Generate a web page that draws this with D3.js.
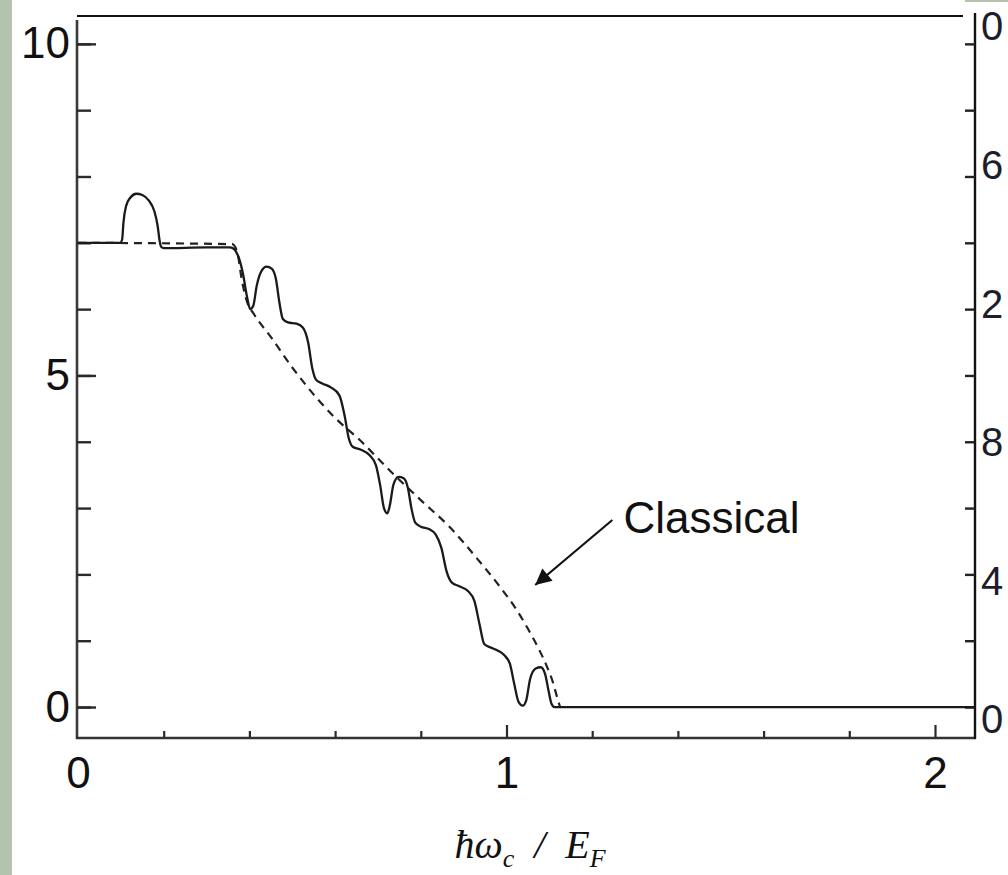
<!DOCTYPE html>
<html><head><meta charset="utf-8">
<script src="https://cdn.jsdelivr.net/npm/d3@7"></script>
<style>html,body{margin:0;padding:0;background:#fff;overflow:hidden}</style>
</head><body>
<svg id="chart" width="1008" height="875"></svg>
<script>
// ---------- data ----------
const quantumX = [0, 0.098, 0.103, 0.106, 0.112, 0.122, 0.136, 0.150, 0.165, 0.178, 0.186, 0.190, 0.194, 0.200, 0.30, 0.355,
  0.365, 0.376, 0.386, 0.394, 0.402, 0.409, 0.417, 0.427, 0.440, 0.452, 0.462, 0.470, 0.478, 0.490, 0.510, 0.525, 0.537, 0.547, 0.556,
  0.570, 0.590, 0.610, 0.622, 0.632, 0.642, 0.660, 0.680, 0.695, 0.705, 0.714, 0.722, 0.728, 0.736, 0.748, 0.760, 0.770, 0.778, 0.787,
  0.800, 0.820, 0.835, 0.848, 0.860, 0.872, 0.890, 0.910, 0.925, 0.937, 0.948, 0.962, 0.980, 0.995, 1.008, 1.018, 1.028, 1.038, 1.046,
  1.055, 1.068, 1.080, 1.090, 1.098, 1.105, 1.112, 2.093];
const quantumY = [7.0, 7.0, 7.05, 7.3, 7.55, 7.68, 7.74, 7.72, 7.64, 7.48, 7.25, 7.05, 6.94, 6.92, 6.93, 6.93,
  6.90, 6.76, 6.50, 6.20, 6.00, 6.05, 6.35, 6.56, 6.64, 6.61, 6.45, 6.10, 5.85, 5.80, 5.78, 5.72, 5.50, 5.10, 4.93,
  4.88, 4.82, 4.70, 4.40, 4.05, 3.92, 3.88, 3.80, 3.65, 3.35, 3.00, 2.92, 3.05, 3.35, 3.47, 3.45, 3.30, 3.00, 2.78,
  2.72, 2.68, 2.60, 2.40, 2.05, 1.88, 1.82, 1.75, 1.60, 1.25, 0.95, 0.90, 0.85, 0.78, 0.65, 0.35, 0.08, 0.02, 0.10,
  0.42, 0.58, 0.60, 0.50, 0.25, 0.05, 0.0, 0.0];

const classicalX = [0, 0.360, 0.372, 0.382, 0.395, 0.410, 0.450, 0.500, 0.557, 0.600, 0.657, 0.727, 0.800, 0.868, 0.930, 0.985, 1.020, 1.050, 1.075, 1.095, 1.108, 1.118, 1.125];
const classicalY = [7.0, 6.98, 6.85, 6.45, 6.10, 5.93, 5.58, 5.12, 4.66, 4.36, 4.03, 3.57, 3.12, 2.71, 2.25, 1.81, 1.50, 1.18, 0.88, 0.60, 0.38, 0.15, 0.0];

const leftTickValues = [0, 5, 10];
const leftTickLabels = ["0", "5", "10"];
const bottomTickValues = [0, 1, 2];
const bottomTickLabels = ["0", "1", "2"];
const rightTickValues = [0, 4, 8, 12, 16, 20];
const rightTickLabels = ["0", "4", "8", "2", "6", "0"];   // only last digits visible (cropped)
const annotationLabel = "Classical";
const annotationArrowFrom = [1.247, 2.82];
const annotationArrowTo = [1.067, 1.84];
const annotationTextAt = [1.273, 2.63];

// ---------- layout ----------
const svg = d3.select("#chart");
const x = d3.scaleLinear().domain([0, 2]).range([78, 935]);
const y = d3.scaleLinear().domain([-0.467, 10.42]).range([738, 16]);
const yRight = d3.scaleLinear().domain([0, 20]).range([y(0), y(10)]);
const yRightLabel = d3.scaleLinear().domain([0, 20]).range([719, 26]);
const xEnd = 975, yTop = 16, yBottom = 738, xLeft = 77;

// background strips
svg.append("rect").attr("x", 0).attr("y", 0).attr("width", 12).attr("height", 875).attr("fill", "#b4c3ad");
svg.append("rect").attr("x", 965).attr("y", 0).attr("width", 43).attr("height", 2).attr("fill", "#b4c3ad");

const axisColor = "#2a2a2a";
// frame lines
svg.append("line").attr("x1", xLeft).attr("x2", xEnd - 12).attr("y1", yTop).attr("y2", yTop)
  .attr("stroke", "#111").attr("stroke-width", 2);
svg.append("line").attr("x1", xLeft).attr("x2", xLeft).attr("y1", 20).attr("y2", yBottom + 1)
  .attr("stroke", "#3a3a3a").attr("stroke-width", 2.6);
svg.append("line").attr("x1", xLeft - 1).attr("x2", xEnd + 1).attr("y1", yBottom).attr("y2", yBottom)
  .attr("stroke", "#333").attr("stroke-width", 2.6);
svg.append("line").attr("x1", xEnd).attr("x2", xEnd).attr("y1", 13).attr("y2", yBottom + 1)
  .attr("stroke", "#111").attr("stroke-width", 2.4);

// left ticks (inward)
const leftMinor = d3.range(0, 11, 1);
svg.append("g").attr("transform", `translate(${xLeft},0)`)
  .call(d3.axisRight(y).tickValues(leftMinor).tickSize(14).tickFormat(""))
  .call(g => g.select(".domain").remove())
  .call(g => g.selectAll("line").attr("stroke", axisColor).attr("stroke-width", 2.4));
svg.append("g").attr("transform", `translate(${xLeft},0)`)
  .call(d3.axisLeft(y).tickValues(leftTickValues).tickSizeInner(-19).tickSizeOuter(0).tickPadding(7)
    .tickFormat((d, i) => leftTickLabels[i]))
  .call(g => g.select(".domain").remove())
  .call(g => g.selectAll("line").attr("stroke", axisColor).attr("stroke-width", 2.4))
  .call(g => g.selectAll("text").attr("font-family", "Liberation Sans, Arial, sans-serif")
    .attr("font-size", 44).attr("fill", "#111"));

// bottom ticks (inward)
const bottomMinor = d3.range(1, 11).map(i => i * 0.2).filter(v => Math.abs(v - Math.round(v)) > 1e-6);
svg.append("g").attr("transform", `translate(0,${yBottom})`)
  .call(d3.axisTop(x).tickValues(bottomMinor).tickSize(7).tickFormat(""))
  .call(g => g.select(".domain").remove())
  .call(g => g.selectAll("line").attr("stroke", axisColor).attr("stroke-width", 2.2));
svg.append("g").attr("transform", `translate(0,${yBottom})`)
  .call(d3.axisBottom(x).tickValues(bottomTickValues).tickSizeInner(-13).tickSizeOuter(0).tickPadding(19)
    .tickFormat((d, i) => bottomTickLabels[i]))
  .call(g => g.select(".domain").remove())
  .call(g => g.selectAll("line").attr("stroke", axisColor).attr("stroke-width", 2.2)
    .attr("display", d => d === 0 ? "none" : null))
  .call(g => g.selectAll("text").attr("font-family", "Liberation Sans, Arial, sans-serif")
    .attr("font-size", 44).attr("fill", "#111"));

// right ticks (inward)
svg.append("g").attr("transform", `translate(${xEnd},0)`)
  .call(d3.axisLeft(yRight).tickValues(d3.range(0, 21, 2)).tickSize(10).tickFormat(""))
  .call(g => g.select(".domain").remove())
  .call(g => g.selectAll("line").attr("stroke", "#222").attr("stroke-width", 2.4));
// right labels (cropped digits)
svg.append("g").selectAll("text").data(rightTickValues).join("text")
  .attr("x", 981).attr("y", d => yRightLabel(d)).attr("dy", "0.36em")
  .attr("font-family", "Liberation Sans, Arial, sans-serif").attr("font-size", 40)
  .attr("fill", "#1d1d2b")
  .text((d, i) => rightTickLabels[i]);

// curves
const line = d3.line().x(d => x(d[0])).y(d => y(d[1])).curve(d3.curveMonotoneX);
svg.append("path").datum(classicalX.map((v, i) => [v, classicalY[i]]))
  .attr("d", line).attr("fill", "none").attr("stroke", "#222").attr("stroke-width", 2.2)
  .attr("stroke-dasharray", "8,6");
svg.append("path").datum(quantumX.map((v, i) => [v, quantumY[i]]))
  .attr("d", line).attr("fill", "none").attr("stroke", "#1a1a1a").attr("stroke-width", 2.3)
  .attr("stroke-linejoin", "round");

// annotation arrow
svg.append("defs").append("marker").attr("id", "ah").attr("viewBox", "0 0 10 10")
  .attr("refX", 10).attr("refY", 5).attr("markerWidth", 20).attr("markerHeight", 16)
  .attr("markerUnits", "userSpaceOnUse").attr("orient", "auto")
  .append("path").attr("d", "M0,0 L10,5 L0,10 Z").attr("fill", "#111");
svg.append("line")
  .attr("x1", x(annotationArrowFrom[0])).attr("y1", y(annotationArrowFrom[1]))
  .attr("x2", x(annotationArrowTo[0])).attr("y2", y(annotationArrowTo[1]))
  .attr("stroke", "#111").attr("stroke-width", 2.2).attr("marker-end", "url(#ah)");
svg.append("text").attr("x", x(annotationTextAt[0])).attr("y", y(annotationTextAt[1]))
  .attr("font-family", "Liberation Sans, Arial, sans-serif").attr("font-size", 44).attr("fill", "#111")
  .text(annotationLabel);

// x-axis title: ħω_c / E_F
const title = svg.append("text").attr("x", 530).attr("y", 858).attr("text-anchor", "middle")
  .attr("font-family", "Liberation Serif, Times New Roman, serif").attr("font-style", "italic")
  .attr("font-size", 40).attr("fill", "#111");
title.append("tspan").text("ħω");
title.append("tspan").attr("dy", 9).attr("font-size", 26).text("c");
title.append("tspan").attr("dy", -9).text("\u2002/\u2002E");
title.append("tspan").attr("dy", 9).attr("font-size", 26).text("F");
</script>
</body></html>
